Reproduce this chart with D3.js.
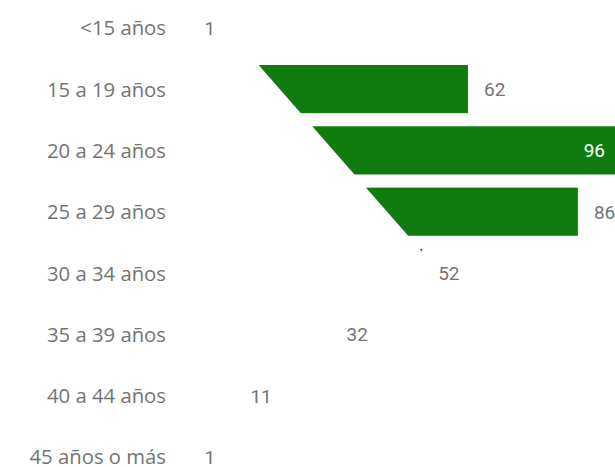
<!DOCTYPE html>
<html>
<head>
<meta charset="utf-8">
<script src="https://cdn.jsdelivr.net/npm/d3@7"></script>
<style>
  html, body { margin: 0; padding: 0; background: #ffffff; overflow: hidden; }
  svg { display: block; }
</style>
</head>
<body>
<svg id="chart" width="615" height="467"></svg>
<script>
// ---- data ----
const categories = ["<15 años", "15 a 19 años", "20 a 24 años", "25 a 29 años",
                    "30 a 34 años", "35 a 39 años", "40 a 44 años", "45 años o más"];
const values = [1, 62, 96, 86, 52, 32, 11, 1];

// ---- layout ----
const W = 615, H = 467;
const barColor = "#107C10";
const textColor = "#747474";

const svg = d3.select("#chart");

const x = d3.scaleLinear().domain([0, 100]).range([184, 642]);
const y = d3.scaleBand()
  .domain(categories)
  .range([-2.9, 487.6])
  .paddingInner(0.2144)
  .paddingOuter(0.1072);

// diagonal wipe mask (bars only)
const wipe = { y0: 65, x0: 258.7, slope: 0.875 };
const wipeX = yy => wipe.x0 + wipe.slope * (yy - wipe.y0);
svg.append("defs").append("clipPath").attr("id", "wipe")
  .append("polygon")
  .attr("points", [[wipeX(0), 0], [W, 0], [W, H], [wipeX(H), H]].map(p => p.join(",")).join(" "));

// bars
svg.append("g").attr("clip-path", "url(#wipe)")
  .selectAll("rect").data(values).join("rect")
  .attr("x", x(0))
  .attr("y", (d, i) => y(categories[i]))
  .attr("width", d => x(d) - x(0))
  .attr("height", y.bandwidth())
  .attr("fill", barColor);

// category labels
svg.append("g").selectAll("text").data(categories).join("text")
  .attr("x", 166)
  .attr("y", d => y(d) + y.bandwidth() / 2)
  .attr("dy", "0.37em")
  .attr("text-anchor", "end")
  .attr("font-family", "'Segoe UI', 'Open Sans', sans-serif")
  .attr("font-size", "20.3px")
  .attr("fill", textColor)
  .text(d => d);

// data labels
const labelFont = "Roboto, 'Noto Sans', sans-serif";
svg.append("g").selectAll("text").data(values).join("text")
  .each(function(d, i) {
    const end = x(d);
    const inside = end > W;
    d3.select(this)
      .attr("x", inside ? W - 10 : end + 16)
      .attr("y", y(categories[i]) + y.bandwidth() / 2)
      .attr("dy", "0.37em")
      .attr("text-anchor", inside ? "end" : "start")
      .attr("font-family", labelFont)
      .attr("font-size", "19px")
      .attr("fill", inside ? "#ffffff" : textColor)
      .text(d);
  });
</script>
</body>
</html>
